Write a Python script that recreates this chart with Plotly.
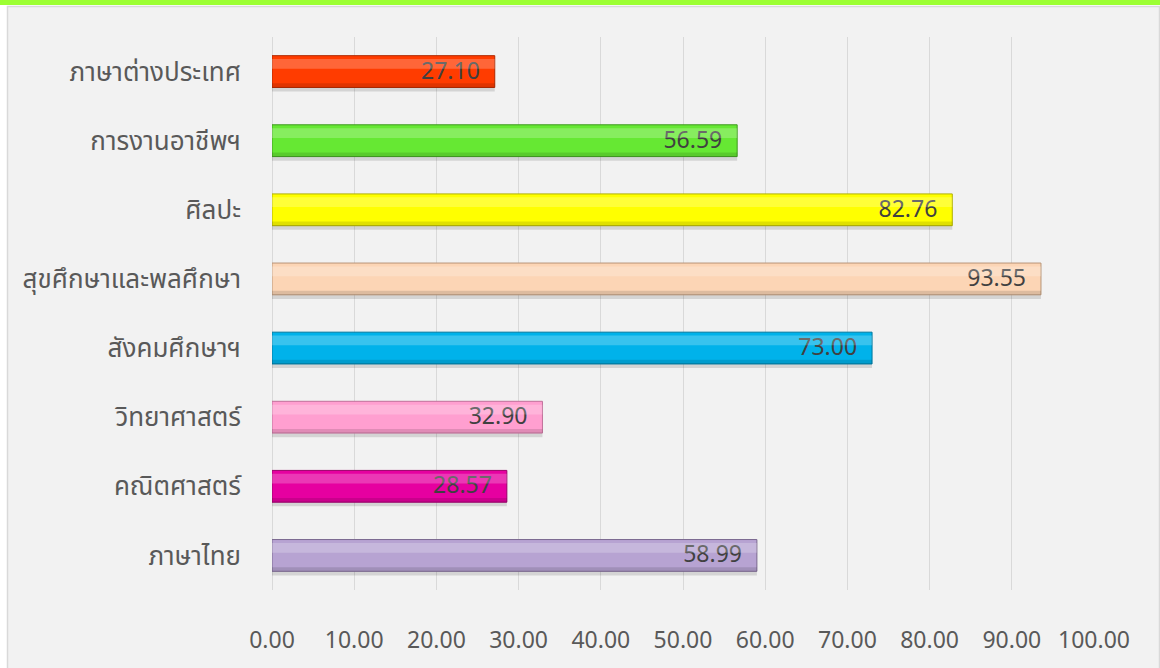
import plotly.graph_objects as go

# ---- data ----
subjects = ["ภาษาไทย", "คณิตศาสตร์", "วิทยาศาสตร์", "สังคมศึกษาฯ",
            "สุขศึกษาและพลศึกษา", "ศิลปะ", "การงานอาชีพฯ", "ภาษาต่างประเทศ"]
scores = [58.99, 28.57, 32.90, 73.00, 93.55, 82.76, 56.59, 27.10]
bar_colors = ["#b7a3d2", "#e600a0", "#ff9fd0", "#00b2ea",
              "#fcd5b5", "#ffff00", "#66e833", "#ff3c00"]
edge_colors = ["#7a6890", "#9a006a", "#c0709a", "#00789e",
               "#b89578", "#b0b000", "#3f9a1e", "#b02800"]
x_ticks = [0, 10, 20, 30, 40, 50, 60, 70, 80, 90, 100]
x_tick_text = ["%.2f" % v for v in x_ticks]
labels = ["%.2f" % v + "\u00a0\u00a0" for v in scores]

FONT = "'Noto Sans Thai', Tahoma, 'Noto Sans', 'DejaVu Sans', sans-serif"
W = 0.46

fig = go.Figure()
# soft shadow
fig.add_trace(go.Bar(x=scores, y=subjects, orientation="h", width=W,
                     offset=-W / 2 - 0.06,
                     marker=dict(color="rgba(0,0,0,0.12)", line=dict(width=0)),
                     hoverinfo="skip", showlegend=False))
# main bars
fig.add_trace(go.Bar(x=scores, y=subjects, orientation="h", width=W,
                     marker=dict(color=bar_colors, line=dict(color=edge_colors, width=1)),
                     text=labels, textposition="inside", insidetextanchor="end",
                     textfont=dict(family=FONT, size=23, color="#404040"),
                     cliponaxis=False, showlegend=False))
# top highlight
fig.add_trace(go.Bar(x=scores, y=subjects, orientation="h", width=0.14,
                     offset=W / 2 - 0.19,
                     marker=dict(color="rgba(255,255,255,0.22)", line=dict(width=0)),
                     hoverinfo="skip", showlegend=False))
# bottom darker band
fig.add_trace(go.Bar(x=scores, y=subjects, orientation="h", width=0.06,
                     offset=-W / 2,
                     marker=dict(color="rgba(0,0,0,0.12)", line=dict(width=0)),
                     hoverinfo="skip", showlegend=False))

L, R, T, B = 272, 66, 37, 78
PW, PH = 1160 - L - R, 668 - T - B


def px(xp):
    return (xp - L) / PW


def py(yp):
    return (668 - B - yp) / PH


fig.update_layout(
    width=1160, height=668,
    barmode="overlay",
    paper_bgcolor="#ffffff",
    plot_bgcolor="rgba(0,0,0,0)",
    margin=dict(l=L, r=R, t=T, b=B, autoexpand=False),
    uniformtext=dict(minsize=23, mode="show"),
    font=dict(family=FONT, color="#595959"),
    shapes=[
        dict(type="rect", xref="paper", yref="paper", layer="below",
             x0=px(7.5), x1=px(1159.5), y0=py(6.5), y1=py(700),
             fillcolor="#f2f2f2", line=dict(color="#d9d9d9", width=1.5)),
        dict(type="rect", xref="paper", yref="paper", layer="below",
             x0=px(-5), x1=px(1170), y0=py(5), y1=py(-5),
             fillcolor="#9cff33", line=dict(width=0)),
    ],
    xaxis=dict(range=[0, 100], tickvals=x_ticks, ticktext=x_tick_text,
               showgrid=True, gridcolor="#d9d9d9", gridwidth=1,
               zeroline=True, zerolinecolor="#d9d9d9", zerolinewidth=1,
               showline=False, ticks="", ticklabelstandoff=34,
               tickfont=dict(size=23, color="#595959"), fixedrange=True),
    yaxis=dict(type="category", categoryorder="array", categoryarray=subjects,
               showgrid=False, zeroline=False, showline=False, ticks="",
               ticklabelstandoff=30,
               tickfont=dict(size=26, color="#595959"), fixedrange=True),
)

fig.write_html("out.html",
               config={"displayModeBar": False},
               post_script="document.body.style.margin='0';document.body.style.overflow='hidden';")
